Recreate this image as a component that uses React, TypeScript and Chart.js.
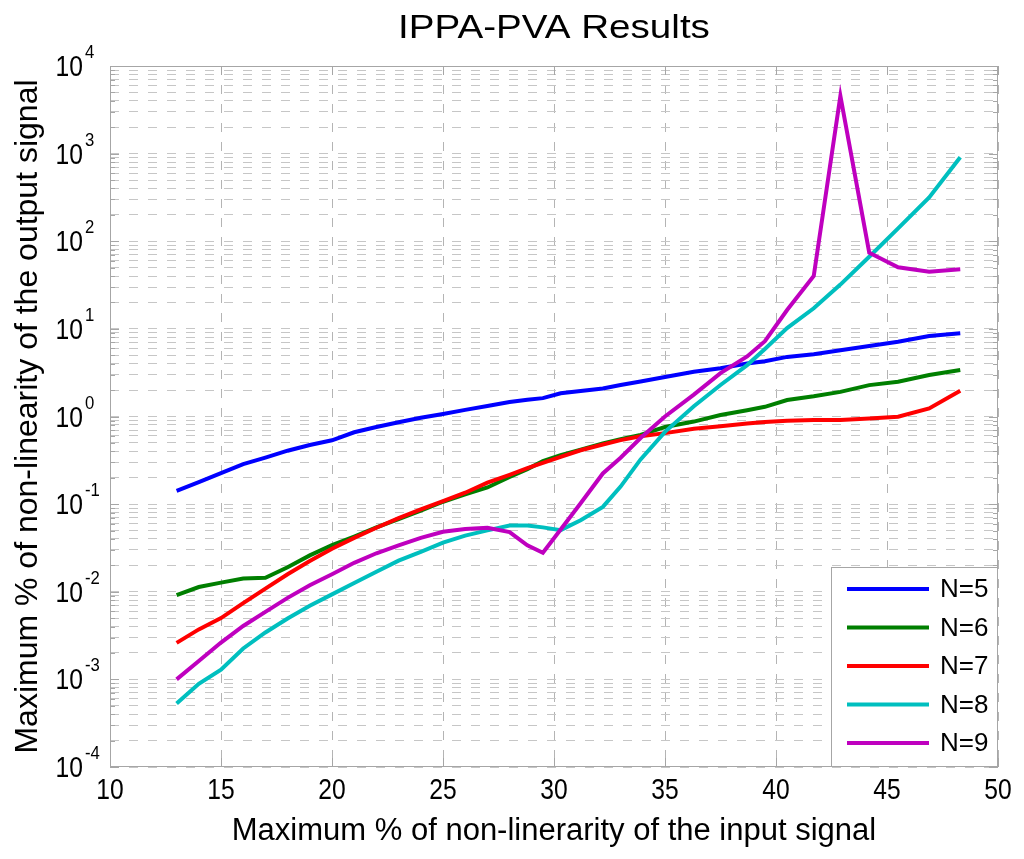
import { useEffect, useRef } from "react"
import { Chart, registerables } from "chart.js"

Chart.register(...registerables)

// x positions of the samples (max % non-linearity of the input signal)
const xs = [13, 14, 15, 16, 17, 18, 19, 20, 21, 22, 23, 24, 25, 26, 27, 28, 28.8, 29.5, 30.3, 31.2, 32.2, 33, 33.9, 35, 36.3, 37.5, 38.7, 39.5, 40.5, 41.7, 42.9, 44.2, 45.5, 46.9, 48.3]

const n5 = [0.142, 0.178, 0.226, 0.286, 0.339, 0.407, 0.473, 0.535, 0.661, 0.759, 0.861, 0.966, 1.07, 1.19, 1.32, 1.46, 1.55, 1.62, 1.84, 1.95, 2.09, 2.29, 2.51, 2.82, 3.24, 3.55, 4.03, 4.27, 4.79, 5.13, 5.69, 6.37, 7.13, 8.28, 8.89]
const n6 = [0.00914, 0.01132, 0.0127, 0.01419, 0.01445, 0.01905, 0.026, 0.034, 0.0427, 0.0542, 0.0676, 0.0841, 0.1064, 0.129, 0.155, 0.204, 0.251, 0.309, 0.363, 0.417, 0.493, 0.55, 0.617, 0.759, 0.875, 1.04, 1.18, 1.29, 1.54, 1.7, 1.91, 2.28, 2.49, 2.97, 3.39]
const n7 = [0.00261, 0.00372, 0.00501, 0.00741, 0.01084, 0.01585, 0.02239, 0.0309, 0.0412, 0.0537, 0.0692, 0.0871, 0.1084, 0.1349, 0.1758, 0.2163, 0.257, 0.295, 0.347, 0.412, 0.479, 0.537, 0.596, 0.646, 0.724, 0.776, 0.832, 0.865, 0.893, 0.91, 0.91, 0.951, 0.993, 1.236, 1.963]
const n8 = [0.000531, 0.000891, 0.00129, 0.002254, 0.003428, 0.004955, 0.00692, 0.00933, 0.01259, 0.0169, 0.02265, 0.0285, 0.0363, 0.0437, 0.0501, 0.0569, 0.0569, 0.0543, 0.0505, 0.0656, 0.0931, 0.1585, 0.3236, 0.668, 1.31, 2.29, 3.86, 5.89, 10.2, 17.2, 32.0, 66.5, 140.3, 316, 908]
const n9 = [0.001, 0.00162, 0.00263, 0.00407, 0.00589, 0.00851, 0.01189, 0.01585, 0.0214, 0.0275, 0.0339, 0.0412, 0.0483, 0.0521, 0.0537, 0.0479, 0.0339, 0.0279, 0.0513, 0.1023, 0.224, 0.339, 0.569, 1.0, 1.78, 3.13, 4.84, 7.24, 16.4, 40.1, 4550, 74.0, 50.4, 44.9, 47.8]

const seriesLabels = ["N=5", "N=6", "N=7", "N=8", "N=9"]
const seriesColors = ["#0000ff", "#007f00", "#ff0000", "#00bfbf", "#bf00bf"]

const xTicks = [10, 15, 20, 25, 30, 35, 40, 45, 50]
const yExponents = [-4, -3, -2, -1, 0, 1, 2, 3, 4]
const minorSteps = [1, 2, 3, 4, 5, 6, 7, 8, 9]

const titleText = "IPPA-PVA Results"
const xTitle = "Maximum % of non-linerarity of the input signal"
const yTitle = "Maximum % of non-linearity of the output signal"

const FONT = '"Liberation Sans", Arial, Helvetica, sans-serif'
const FRAME = "#a6a6a6"

const yGrid = yExponents.flatMap(e => minorSteps.map(m => m * Math.pow(10, e))).filter(v => v <= 1e4 * 1.0001)

const matlabLook = {
  id: "matlabLook",
  beforeDatasetsDraw(chart: Chart) {
    const { ctx, chartArea: { left, right, top, bottom }, scales } = chart
    const x = scales.x
    const y = scales.y
    ctx.save()
    ctx.strokeStyle = FRAME
    ctx.lineWidth = 1
    ctx.strokeRect(left + 0.5, top + 0.5, right - left - 1, bottom - top - 1)
    ctx.beginPath()
    yGrid.forEach((v, i) => {
      const py = Math.round(y.getPixelForValue(v)) + 0.5
      const len = i % 9 === 0 ? 9 : 5
      ctx.moveTo(left, py); ctx.lineTo(left + len, py)
      ctx.moveTo(right, py); ctx.lineTo(right - len, py)
    })
    xTicks.forEach(v => {
      const px = Math.round(x.getPixelForValue(v)) + 0.5
      ctx.moveTo(px, bottom); ctx.lineTo(px, bottom - 9)
      ctx.moveTo(px, top); ctx.lineTo(px, top + 9)
    })
    ctx.stroke()
    ctx.restore()
  },
  afterDraw(chart: Chart) {
    const { ctx, chartArea: { left, right, top, bottom }, scales } = chart
    const x = scales.x
    const y = scales.y
    ctx.save()
    ctx.fillStyle = "#000"
    ctx.textBaseline = "alphabetic"

    // title
    ctx.font = `33px ${FONT}`
    ctx.textAlign = "center"
    ctx.save()
    ctx.translate((left + right) / 2, 38)
    ctx.scale(1.17, 1)
    ctx.fillText(titleText, 0, 0)
    ctx.restore()

    // x tick labels
    ctx.font = `29px ${FONT}`
    xTicks.forEach(v => {
      ctx.save()
      ctx.translate(x.getPixelForValue(v), bottom + 32)
      ctx.scale(0.85, 1)
      ctx.fillText(String(v), 0, 0)
      ctx.restore()
    })

    // y tick labels 10^e
    yExponents.forEach(e => {
      const py = y.getPixelForValue(Math.pow(10, e))
      ctx.save()
      ctx.translate(left - 27, py + 10)
      ctx.scale(0.85, 1)
      ctx.font = `29px ${FONT}`
      ctx.textAlign = "right"
      ctx.fillText("10", 0, 0)
      ctx.restore()
      ctx.save()
      ctx.translate(left - 25, py - 8)
      ctx.scale(0.88, 1)
      ctx.font = `19px ${FONT}`
      ctx.textAlign = "left"
      ctx.fillText(String(e), 0, 0)
      ctx.restore()
    })

    // axis titles
    ctx.font = `31px ${FONT}`
    ctx.textAlign = "center"
    ctx.fillText(xTitle, (left + right) / 2, bottom + 73)
    ctx.save()
    ctx.translate(37, (top + bottom) / 2)
    ctx.rotate(-Math.PI / 2)
    ctx.font = `32px ${FONT}`
    ctx.fillText(yTitle, 0, 0)
    ctx.restore()

    // legend box in the lower right corner
    const bw = 167
    const bh = 200
    const bx = right - bw
    const by = bottom - bh
    ctx.fillStyle = "#fff"
    ctx.fillRect(bx, by, bw, bh)
    ctx.strokeStyle = FRAME
    ctx.lineWidth = 1
    ctx.strokeRect(bx + 0.5, by + 0.5, bw - 1, bh - 1)
    ctx.font = `26px ${FONT}`
    ctx.textAlign = "left"
    ctx.textBaseline = "middle"
    seriesLabels.forEach((lab, i) => {
      const ry = by + 22 + i * 38.5
      ctx.strokeStyle = seriesColors[i]
      ctx.lineWidth = 4
      ctx.beginPath()
      ctx.moveTo(bx + 16, ry)
      ctx.lineTo(bx + 98, ry)
      ctx.stroke()
      ctx.fillStyle = "#000"
      ctx.fillText(lab, bx + 109, ry + 1)
    })
    ctx.restore()
  },
}

export default function App() {
  const canvasRef = useRef<HTMLCanvasElement>(null)
  const chartRef = useRef<Chart | null>(null)

  useEffect(() => {
    if (!canvasRef.current) return
    const ctx = canvasRef.current.getContext("2d")
    if (!ctx) return
    chartRef.current?.destroy()

    const series = [n5, n6, n7, n8, n9]

    chartRef.current = new Chart(ctx, {
      type: "line",
      data: {
        datasets: series.map((ys, i) => ({
          label: seriesLabels[i],
          data: xs.map((xv, j) => ({ x: xv, y: ys[j] })),
          borderColor: seriesColors[i],
          backgroundColor: seriesColors[i],
          borderWidth: 4,
          pointRadius: 0,
          tension: 0,
          fill: false,
          order: series.length - i,
        })),
      },
      options: {
        responsive: false,
        animation: false,
        layout: { padding: { left: 110, right: 26, top: 66, bottom: 92 } },
        plugins: {
          legend: { display: false },
          title: { display: false },
          tooltip: { enabled: false },
        },
        scales: {
          x: {
            type: "linear",
            min: 10,
            max: 50,
            ticks: { display: false, stepSize: 5 },
            grid: { color: "#b4b4b4", lineWidth: 1, drawTicks: false },
            border: { display: false, dash: [9, 10] },
          },
          y: {
            type: "logarithmic",
            min: 1e-4,
            max: 1e4,
            afterBuildTicks: (scale: any) => { scale.ticks = yGrid.map(v => ({ value: v })) },
            ticks: { display: false },
            grid: { color: "#c6c6c6", lineWidth: 1, drawTicks: false },
            border: { display: false, dash: [9, 10] },
          },
        },
      },
      plugins: [matlabLook],
    })

    return () => { chartRef.current?.destroy() }
  }, [])

  return (
    <div style={{ position: "absolute", left: 0, top: 0, width: 1024, height: 859, background: "#fff" }}>
      <canvas ref={canvasRef} width={1024} height={859} role="img" aria-label="IPPA-PVA Results chart" />
    </div>
  )
}
